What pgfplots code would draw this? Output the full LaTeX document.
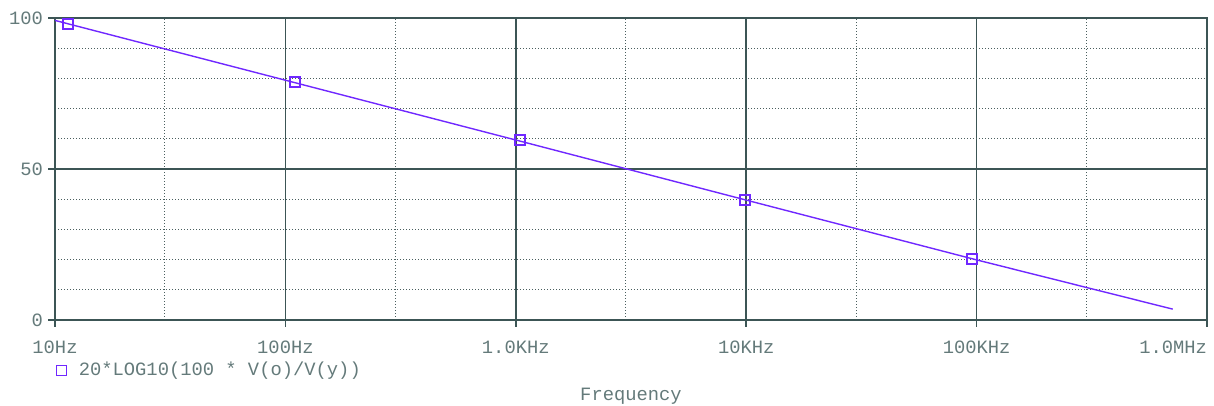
\documentclass[border=0pt]{standalone}
\usepackage{pgfplots}
\pgfplotsset{compat=1.18}
\usepackage{fontspec}
\setmonofont{Liberation Mono}
\definecolor{axiscol}{RGB}{60,85,85}
\definecolor{gridcol}{RGB}{75,95,95}
\definecolor{labelcol}{RGB}{100,122,122}
\definecolor{tracecol}{RGB}{112,40,255}
\newcommand\pf{\fontsize{9.4}{11}\selectfont\ttfamily}
\begin{document}
\begin{tikzpicture}
\begin{axis}[
  at={(0,0)}, anchor=south west,
  scale only axis, width=576pt, height=151pt,
  xmode=log, xmin=10, xmax=1000000, ymin=0, ymax=100,
  xtick={10,100,1000,10000,100000,1000000},
  xticklabels={10Hz,100Hz,1.0KHz,10KHz,100KHz,\makebox[0pt][r]{1.0MHz}},
  ytick={0,50,100}, yticklabels={0,50,100},
  minor xtick={30,300,3000,30000,300000},
  minor ytick={10,20,30,40,60,70,80,90},
  xmajorgrids, ymajorgrids, xminorgrids, yminorgrids,
  major grid style={solid, axiscol, line width=0.75pt},
  minor grid style={gridcol, line width=0.5pt, dash pattern=on 0.5pt off 1pt},
  tick align=outside, major tick length=3.5pt, minor tick length=0pt,
  tick pos=left,
  tick style={axiscol, line width=0.75pt},
  axis line style={axiscol, line width=1pt},
  tick label style={font=\pf, text=labelcol},
  yticklabel style={xshift=1pt},
  xticklabel style={yshift=-3.5pt},
  xlabel={Frequency},
  xlabel style={at={(axis description cs:0.5,-0.268)}, anchor=base, font=\pf, text=labelcol},
  legend style={at={(axis description cs:-0.004,-0.111)}, anchor=north west, draw=none, fill=none, font=\pf, text=labelcol},
  legend cell align=left,
  legend image code/.code={\draw[#1, mark size=2.5pt] plot coordinates {(0.2cm,0)};},
]
\addplot[tracecol, line width=0.7pt, no marks, forget plot] coordinates {
  (10,99.2) (100,79.4) (1000,59.6) (10000,39.7) (100000,19.9) (710000,3.6)
};
\addplot[only marks, mark=square, mark size=2.5pt, mark options={tracecol, line width=0.7pt, fill=none}] coordinates {
  (11.4,98.0) (110,78.8) (1042,59.6) (9886,39.7) (95500,20.2)
};
\addlegendentry{\hspace{4pt}20*LOG10(100 * V(o)/V(y))}
\end{axis}
\pgfresetboundingbox
\path[use as bounding box] (-27.5pt,-43pt) rectangle (579.5pt,160pt);
\end{tikzpicture}
\end{document}
